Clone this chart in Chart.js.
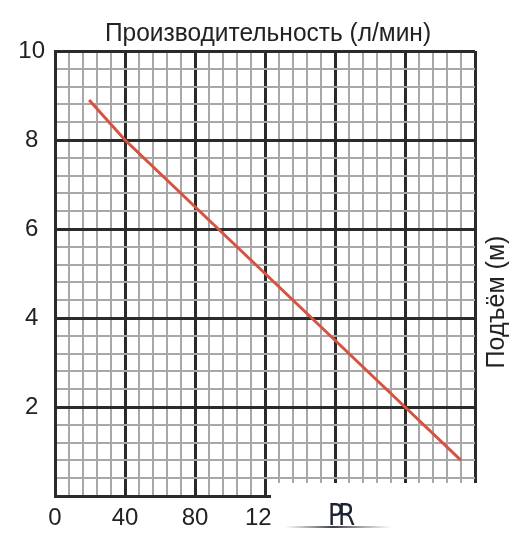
<!DOCTYPE html>
<html>
<head>
<meta charset="utf-8">
<script src="https://cdn.jsdelivr.net/npm/chart.js@4"></script>
<style>
  html, body { margin: 0; padding: 0; background: #fff; }
  #wrap { width: 530px; height: 548px; }
</style>
</head>
<body>
<div id="wrap"><canvas id="chart" width="530" height="548"></canvas></div>
<script>
// Данные графика
const flowValues = [19.5, 40, 120, 200, 232];    // л/мин
const headValues = [8.9, 8, 5, 2, 0.8];          // м
const xTickLabels = [0, 40, 80, 120, 160, 200, 240];
const yTickLabels = [2, 4, 6, 8, 10];

const titleX = 'Производительность (л/мин)';
const titleY = 'Подъём (м)';

const font = "'Liberation Sans', Arial, sans-serif";

function isMajor(v, step) {
    const r = v / step;
    return Math.abs(r - Math.round(r)) < 1e-6;
}

// Подписи осей, белая плашка и логотип
const decorPlugin = {
    id: 'decor',
    afterDraw(chart) {
        const ctx = chart.ctx;
        const area = chart.chartArea;
        ctx.save();
        ctx.fillStyle = '#222';
        ctx.textAlign = 'center';
        ctx.textBaseline = 'middle';
        ctx.font = '25px ' + font;
        ctx.save();
        ctx.scale(0.98, 1);
        ctx.fillText(titleX, ((area.left + area.right) / 2 + 3) / 0.98, 34);
        ctx.restore();

        ctx.translate(497, 302);
        ctx.rotate(-Math.PI / 2);
        ctx.fillText(titleY, 0, 0);
        ctx.restore();

        // белая плашка поверх правого нижнего угла
        ctx.save();
        ctx.fillStyle = '#fff';
        ctx.fillRect(271, 483, 259, 65);
        const g = ctx.createLinearGradient(285, 0, 392, 0);
        g.addColorStop(0, 'rgba(80,80,90,0)');
        g.addColorStop(0.45, 'rgba(40,40,50,0.9)');
        g.addColorStop(1, 'rgba(80,80,90,0)');
        ctx.fillStyle = g;
        ctx.fillRect(285, 526, 107, 2);
        ctx.fillStyle = '#1c2233';
        ctx.font = "31px 'DejaVu Sans', sans-serif";
        ctx.textAlign = 'left';
        ctx.textBaseline = 'alphabetic';
        ctx.save();
        ctx.scale(0.8, 1);
        ctx.fillText('P', 328 / 0.8, 525);
        ctx.fillText('R', 338 / 0.8, 525);
        ctx.restore();
        ctx.restore();
    }
};

new Chart(document.getElementById('chart'), {
    type: 'line',
    data: {
        datasets: [{
            data: flowValues.map((x, i) => ({ x: x, y: headValues[i] })),
            borderColor: '#d8523f',
            borderWidth: 3,
            pointRadius: 0,
            tension: 0,
            fill: false
        }]
    },
    options: {
        responsive: false,
        animation: false,
        layout: { padding: { top: 51, right: 55, left: 0, bottom: 0 } },
        plugins: {
            legend: { display: false },
            tooltip: { enabled: false }
        },
        scales: {
            x: {
                type: 'linear',
                min: 0,
                max: 240,
                ticks: {
                    stepSize: 8,
                    autoSkip: false,
                    maxRotation: 0,
                    padding: 8,
                    color: '#222',
                    font: { size: 24, family: font },
                    callback: v => (xTickLabels.includes(v) ? String(v) : '')
                },
                grid: {
                    drawTicks: false,
                    color: ctx => isMajor(ctx.tick.value, 40) ? '#2a2a2a' : '#a8a8a8',
                    lineWidth: ctx => isMajor(ctx.tick.value, 40) ? 3 : 2
                },
                border: { display: true, color: '#2a2a2a', width: 3 },
                afterFit: scale => { scale.height = 52; }
            },
            y: {
                type: 'linear',
                min: 0,
                max: 10,
                ticks: {
                    stepSize: 0.4,
                    autoSkip: false,
                    crossAlign: 'center',
                    padding: 10,
                    color: '#222',
                    font: { size: 24, family: font },
                    callback: v => {
                        const r = Math.round(v * 10) / 10;
                        return yTickLabels.includes(r) && isMajor(v, 2) ? String(r) : '';
                    }
                },
                grid: {
                    drawTicks: false,
                    color: ctx => isMajor(ctx.tick.value, 2) ? '#2a2a2a' : '#a8a8a8',
                    lineWidth: ctx => isMajor(ctx.tick.value, 2) ? 3 : 2
                },
                border: { display: true, color: '#2a2a2a', width: 3 },
                afterFit: scale => { scale.width = 55; }
            }
        }
    },
    plugins: [decorPlugin]
});
</script>
</body>
</html>
